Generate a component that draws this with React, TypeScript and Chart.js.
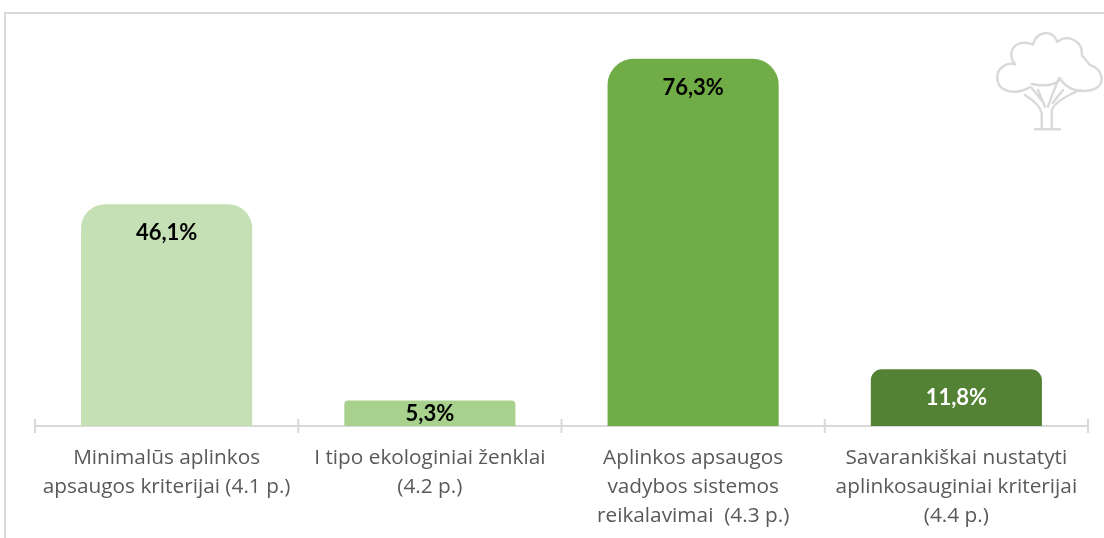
import React, { useEffect, useRef } from "react";
import { Chart, registerables } from "chart.js";

Chart.register(...registerables);

const categories: string[][] = [
  ["Minimalūs aplinkos", "apsaugos kriterijai (4.1 p.)"],
  ["I tipo ekologiniai ženklai", "(4.2 p.)"],
  ["Aplinkos apsaugos", "vadybos sistemos", "reikalavimai  (4.3 p.)"],
  ["Savarankiškai nustatyti", "aplinkosauginiai kriterijai", "(4.4 p.)"],
];
const values = [46.1, 5.3, 76.3, 11.8];
const barColors = ["#C5E0B4", "#A9D18E", "#70AD47", "#548235"];
const labelColors = ["#000000", "#000000", "#000000", "#FFFFFF"];
const barRadii = [24, 4, 26, 11];

const GREY = "#D9D9D9";
const formatValue = (v: number) => v.toFixed(1).replace(".", ",") + "%";

const framePlugin = {
  id: "frame",
  beforeDraw(chart: any) {
    const { ctx, width, height } = chart;
    ctx.save();
    ctx.strokeStyle = GREY;
    ctx.lineWidth = 2;
    ctx.beginPath();
    ctx.moveTo(5, height);
    ctx.lineTo(5, 13);
    ctx.lineTo(width, 13);
    ctx.stroke();
    ctx.restore();
  },
};

const axisTicksPlugin = {
  id: "axisTicks",
  afterDraw(chart: any) {
    const { ctx, chartArea } = chart;
    const x = chart.scales.x;
    const step = (chartArea.right - chartArea.left) / categories.length;
    ctx.save();
    ctx.strokeStyle = GREY;
    ctx.lineWidth = 2;
    for (let i = 0; i <= categories.length; i++) {
      const px = x.left + step * i;
      ctx.beginPath();
      ctx.moveTo(px, chartArea.bottom - 7);
      ctx.lineTo(px, chartArea.bottom + 7);
      ctx.stroke();
    }
    ctx.restore();
  },
};

const valueLabelPlugin = {
  id: "valueLabels",
  afterDatasetsDraw(chart: any) {
    const { ctx, chartArea } = chart;
    const meta = chart.getDatasetMeta(0);
    ctx.save();
    ctx.font = "bold 22px Lato";
    ctx.textAlign = "center";
    ctx.textBaseline = "middle";
    meta.data.forEach((bar: any, i: number) => {
      const y = Math.min(bar.y + 29, chartArea.bottom - 12);
      ctx.fillStyle = labelColors[i];
      ctx.fillText(formatValue(values[i]), bar.x, y);
    });
    ctx.restore();
  },
};

const treeCrown =
  "M1030 87.3 C1016.7 95 998 93 997.3 78.3 C996.7 68.3 1006.7 61.7 1015 64.3 " +
  "C1006.7 55 1012 38 1033 44.3 C1036.7 31.7 1051.7 28.3 1057.3 41.7 " +
  "C1068.3 33.3 1083.3 41.7 1081.7 55 L1090 65 " +
  "C1103.3 68.3 1106.7 86.7 1091.7 90 C1080 92.7 1066.7 90 1060 78.3 " +
  "C1056.7 86.7 1041.7 86 1031.7 84";
const treeTrunk =
  "M1035 129.3 H1060 M1041.7 129 V113 C1040 106 1033 100 1025 95 " +
  "M1051.7 129 V110 C1055 102 1068 95 1080 90 " +
  "M1031.7 88 L1042.7 101.7 M1038 90 L1045 106.7 " +
  "M1059 78 C1055 88 1051 97 1048 106.7 M1063 90 L1052.7 103";

export default function App() {
  const ref = useRef<HTMLCanvasElement | null>(null);

  useEffect(() => {
    if (!ref.current) return;
    const chart = new Chart(ref.current, {
      type: "bar",
      data: {
        labels: categories,
        datasets: [
          {
            data: values,
            backgroundColor: barColors,
            barPercentage: 0.65,
            categoryPercentage: 1,
            borderSkipped: false,
            borderRadius: (c: any) => {
              const r = barRadii[c.dataIndex] ?? 0;
              return { topLeft: r, topRight: r, bottomLeft: 0, bottomRight: 0 };
            },
          },
        ],
      },
      options: {
        responsive: false,
        animation: false,
        layout: { padding: { left: 35, right: 16, top: 41, bottom: 0 } },
        plugins: { legend: { display: false }, title: { display: false }, tooltip: { enabled: false } },
        scales: {
          y: { display: false, min: 0, max: 80 },
          x: {
            afterFit: (s: any) => {
              s.height = 112;
            },
            grid: { display: false },
            border: { display: true, color: GREY, width: 2 },
            ticks: {
              color: "#595959",
              font: { family: "'Open Sans'", size: 20.8, lineHeight: 1.38 },
              padding: 10,
              maxRotation: 0,
              autoSkip: false,
            },
          },
        },
      },
      plugins: [framePlugin, axisTicksPlugin, valueLabelPlugin],
    } as any);
    return () => chart.destroy();
  }, []);

  return (
    <div style={{ position: "absolute", left: 0, top: 0, width: 1104, height: 538, overflow: "hidden", background: "#fff" }}>
      <canvas ref={ref} width={1104} height={538} style={{ display: "block" }} />
      <svg width={1104} height={538} style={{ position: "absolute", left: 0, top: 0, pointerEvents: "none" }}>
        <g fill="none" stroke={GREY} strokeWidth={2.4} strokeLinecap="round" strokeLinejoin="round">
          <path d={treeCrown} />
          <path d={treeTrunk} />
        </g>
      </svg>
    </div>
  );
}
